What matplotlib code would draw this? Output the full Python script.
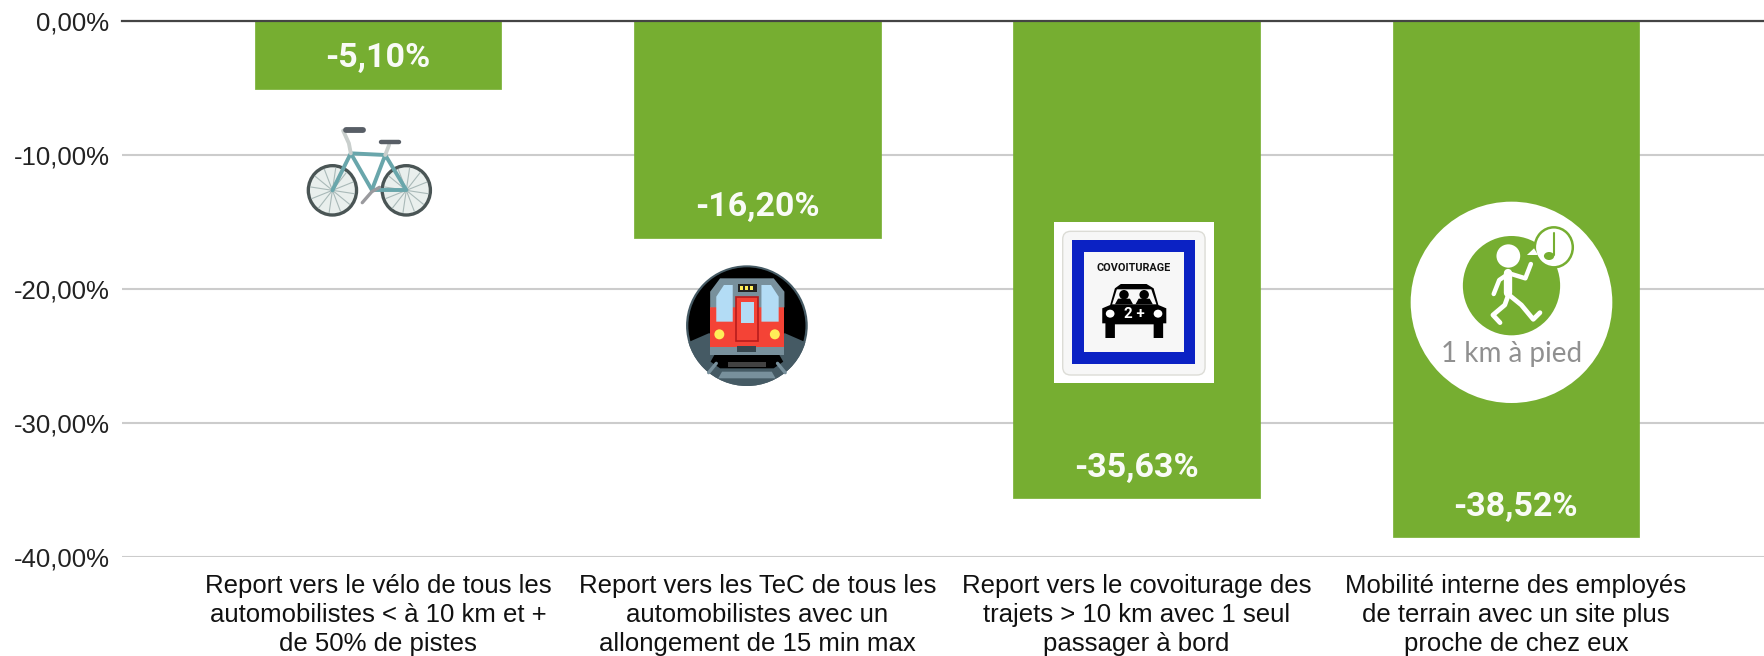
import math
import matplotlib
matplotlib.use("Agg")
import matplotlib.pyplot as plt
from matplotlib.patches import Ellipse, Rectangle, FancyBboxPatch, Polygon

categories = [
    "Report vers le vélo de tous les\nautomobilistes < à 10 km et +\nde 50% de pistes",
    "Report vers les TeC de tous les\nautomobilistes avec un\nallongement de 15 min max",
    "Report vers le covoiturage des\ntrajets > 10 km avec 1 seul\npassager à bord",
    "Mobilité interne des employés\nde terrain avec un site plus\nproche de chez eux",
]
values = [-5.10, -16.20, -35.63, -38.52]
value_labels = ["-5,10%", "-16,20%", "-35,63%", "-38,52%"]
y_ticks = [0, -10, -20, -30, -40]
y_labels = ["0,00%", "-10,00%", "-20,00%", "-30,00%", "-40,00%"]

W, H = 1764, 656
GREEN = "#76ae31"
fig = plt.figure(figsize=(W / 100, H / 100), dpi=100, facecolor="white")
ax = fig.add_axes([122 / W, 1 - 557 / H, (W - 122) / W, (557 - 20.5) / H])
xs = list(range(len(values)))
bars = ax.bar(xs, values, width=246.5 / 379.3, color=GREEN, edgecolor=GREEN,
              linewidth=0.5, zorder=2)
for b in bars:
    b.set_joinstyle("round")
ax.set_xlim((122 - 378) / 379.3, (W - 378) / 379.3)
ax.set_ylim(-40, 0)
for s in ax.spines.values():
    s.set_visible(False)
ax.set_yticks(y_ticks, y_labels, fontfamily="Liberation Sans", fontsize=18.5, color="#222222")
ax.set_xticks(xs, categories, fontfamily="Liberation Sans", fontsize=18.5, color="#111111",
              linespacing=1.26)
ax.tick_params(axis="both", length=0)
ax.tick_params(axis="y", pad=9)
ax.tick_params(axis="x", pad=12.5)
ax.grid(axis="y", color="#cccccc", linewidth=1.5, zorder=1)
ax.set_axisbelow(True)
ax.axhline(0, color="#444444", linewidth=1.6, zorder=3, clip_on=False)
for x, v, t in zip(xs, values, value_labels):
    ax.annotate(t, (x, v), xytext=(0, 22), textcoords="offset points", ha="center", va="center",
                color="white", fontfamily="Roboto", fontweight="bold", fontsize=24.5, zorder=4,
                alpha=0.96)

# Decorative pictograms: overlay in pixel coordinates
ov = fig.add_axes([0, 0, 1, 1], facecolor="none")
ov.set_xlim(0, W)
ov.set_ylim(H, 0)
ov.axis("off")

SX1, SX2 = 2.613, 2.529

def Z1(x, y):
    return 280 + x / SX1, 100 + y / 3

def Z2(x, y):
    return 1020 + x / SX2, 190 + y / 3

def line(pts, Z, color, lw, cap="round"):
    p = [Z(*q) for q in pts]
    return ov.plot([a for a, _ in p], [b for _, b in p], color=color, lw=lw,
                   solid_capstyle=cap, solid_joinstyle="round")[0]

def ell(cx, cy, rx, ry, Z, **kw):
    x, y = Z(cx, cy)
    x1, y1 = Z(cx + rx, cy + ry)
    e = Ellipse((x, y), 2 * (x1 - x), 2 * (y1 - y), **kw)
    ov.add_patch(e)
    return e

def rect(x0, y0, x1, y1, Z, **kw):
    a, b = Z(x0, y0)
    c, d = Z(x1, y1)
    r = Rectangle((a, b), c - a, d - b, **kw)
    ov.add_patch(r)
    return r

def poly(pts, Z, **kw):
    p = Polygon([Z(*q) for q in pts], closed=True, **kw)
    ov.add_patch(p)
    return p

# Bicycle
for cx in (137, 330):
    ell(cx, 271, 63, 74, Z1, fc="#e9efed", ec="#4a5555", lw=2.4)
    for k in range(12):
        a = k * math.pi / 6 + 0.15
        line([(cx, 271), (cx + 58 * math.cos(a), 271 + 68 * math.sin(a))], Z1, "#a9b9b8", 0.8)
teal = "#69a6ab"
line([(137, 271), (185, 160), (275, 165), (240, 270), (330, 270), (275, 165)], Z1, teal, 2.8)
line([(185, 160), (240, 270)], Z1, teal, 2.8)
line([(165, 92), (180, 130), (185, 160)], Z1, "#c9cfcd", 2.8)
line([(285, 135), (275, 165)], Z1, "#c9cfcd", 2.8)
line([(172, 90), (216, 90)], Z1, "#585e66", 4.2)
line([(264, 125), (312, 125)], Z1, "#585e66", 3.2)
line([(215, 308), (240, 275), (260, 262)], Z1, "#9a9a9e", 2.4)

# Metro
disc = ell(1220, 677, 159, 181, Z1, fc="#455a64", ec="none")
ell(1220, 677, 153, 175, Z1, fc="black", ec="none")
lower = poly([(1050, 735), (1120, 700), (1320, 700), (1390, 735), (1390, 870), (1050, 870)],
             Z1, fc="#455a64", ec="none")
lower.set_clip_path(disc)
rect(1124, 620, 1318, 740, Z1, fc="#f44336", ec="none")
poly([(1124, 622), (1124, 575), (1150, 535), (1290, 535), (1318, 575), (1318, 622)], Z1,
     fc="#78909c", ec="none")
poly([(1140, 665), (1140, 590), (1160, 555), (1183, 555), (1183, 665)], Z1, fc="#b3dcf5", ec="none")
poly([(1303, 665), (1303, 590), (1283, 555), (1258, 555), (1258, 665)], Z1, fc="#b3dcf5", ec="none")
rect(1192, 592, 1250, 722, Z1, fc="#f44336", ec="#b71c1c", lw=1.2)
rect(1204, 606, 1238, 670, Z1, fc="#b3dcf5", ec="none")
rect(1196, 552, 1246, 575, Z1, fc="#222222", ec="none")
for xx in (1203, 1216, 1229):
    rect(xx, 558, xx + 8, 570, Z1, fc="#ffee58", ec="none")
ell(1148, 703, 13, 15, Z1, fc="#ffee58", ec="none")
ell(1293, 703, 13, 15, Z1, fc="#ffee58", ec="none")
rect(1124, 740, 1318, 765, Z1, fc="#78909c", ec="none")
rect(1195, 738, 1245, 755, Z1, fc="#37474f", ec="none")
poly([(1135, 765), (1305, 765), (1315, 785), (1290, 805), (1150, 805), (1125, 785)], Z1,
     fc="black", ec="none")
rect(1170, 785, 1270, 800, Z1, fc="#424242", ec="none")
poly([(1155, 815), (1285, 815), (1295, 835), (1145, 835)], Z1, fc="#78909c", ec="none")
line([(1140, 790), (1120, 818)], Z1, "#78909c", 2.4)
line([(1300, 790), (1320, 818)], Z1, "#78909c", 2.4)

# Carpool sign
rect(86, 96, 491, 578, Z2, fc="white", ec="none")
a, b = Z2(108, 124)
c, d = Z2(468, 555)
ov.add_patch(FancyBboxPatch((a, b), c - a, d - b, boxstyle="round,pad=0,rounding_size=8",
                            fc="#f7f7f7", ec="#dcdcd6", lw=1))
rect(132, 150, 442, 522, Z2, fc="#0b22c4", ec="none")
rect(162, 187, 414, 487, Z2, fc="#f7f7f7", ec="none")
x, y = Z2(288, 233)
ov.text(x, y, "COVOITURAGE", ha="center", va="center", fontsize=7.8, fontweight="bold",
        fontfamily="Roboto", color="#111111")
poly([(228, 345), (240, 295), (255, 282), (320, 282), (338, 295), (350, 345), (370, 355), (370, 400),
      (362, 400), (362, 444), (338, 444), (338, 403), (240, 403), (240, 444), (216, 444), (216, 400),
      (208, 400), (208, 355)], Z2, fc="black", ec="none")
poly([(233, 343), (245, 298), (332, 298), (345, 343)], Z2, fc="#f7f7f7", ec="none")
ell(263, 314, 12, 14, Z2, fc="black", ec="none")
ell(314, 314, 12, 14, Z2, fc="black", ec="none")
poly([(240, 343), (248, 326), (278, 326), (286, 343)], Z2, fc="black", ec="none")
poly([(292, 343), (300, 326), (328, 326), (336, 343)], Z2, fc="black", ec="none")
ell(228, 371, 11, 12, Z2, fc="white", ec="none")
ell(349, 371, 11, 12, Z2, fc="white", ec="none")
x, y = Z2(288, 372)
ov.text(x, y, "2 +", ha="center", va="center", fontsize=11, fontweight="bold",
        fontfamily="Roboto", color="white")

# Walker
ell(1243, 337, 255, 302, Z2, fc="white", ec="none")
ell(1243, 287, 123, 149, Z2, fc=GREEN, ec="none")
ell(1350, 172, 48, 60, Z2, fc="white", ec=GREEN, lw=1.8)
poly([(1300, 175), (1282, 195), (1310, 195)], Z2, fc="white", ec="none")
line([(1350, 130), (1350, 195)], Z2, GREEN, 1.5)
ell(1338, 198, 13, 12, Z2, fc=GREEN, ec="none")
ell(1235, 198, 30, 35, Z2, fc="white", ec="none")
line([(1235, 250), (1235, 310)], Z2, "white", 6)
line([(1237, 250), (1212, 270), (1198, 312)], Z2, "white", 3.2)
line([(1237, 250), (1278, 265), (1292, 222)], Z2, "white", 3.2)
line([(1235, 315), (1226, 345), (1196, 375), (1214, 398)], Z2, "white", 3.4)
line([(1237, 315), (1268, 345), (1298, 388), (1315, 368)], Z2, "white", 3.4)
x, y = Z2(1243, 492)
ov.text(x, y, "1 km à pied", ha="center", va="center", fontsize=20, fontfamily="Lato",
        color="#909090", fontweight="normal")

fig.savefig("out.png", dpi=100, facecolor="white")
